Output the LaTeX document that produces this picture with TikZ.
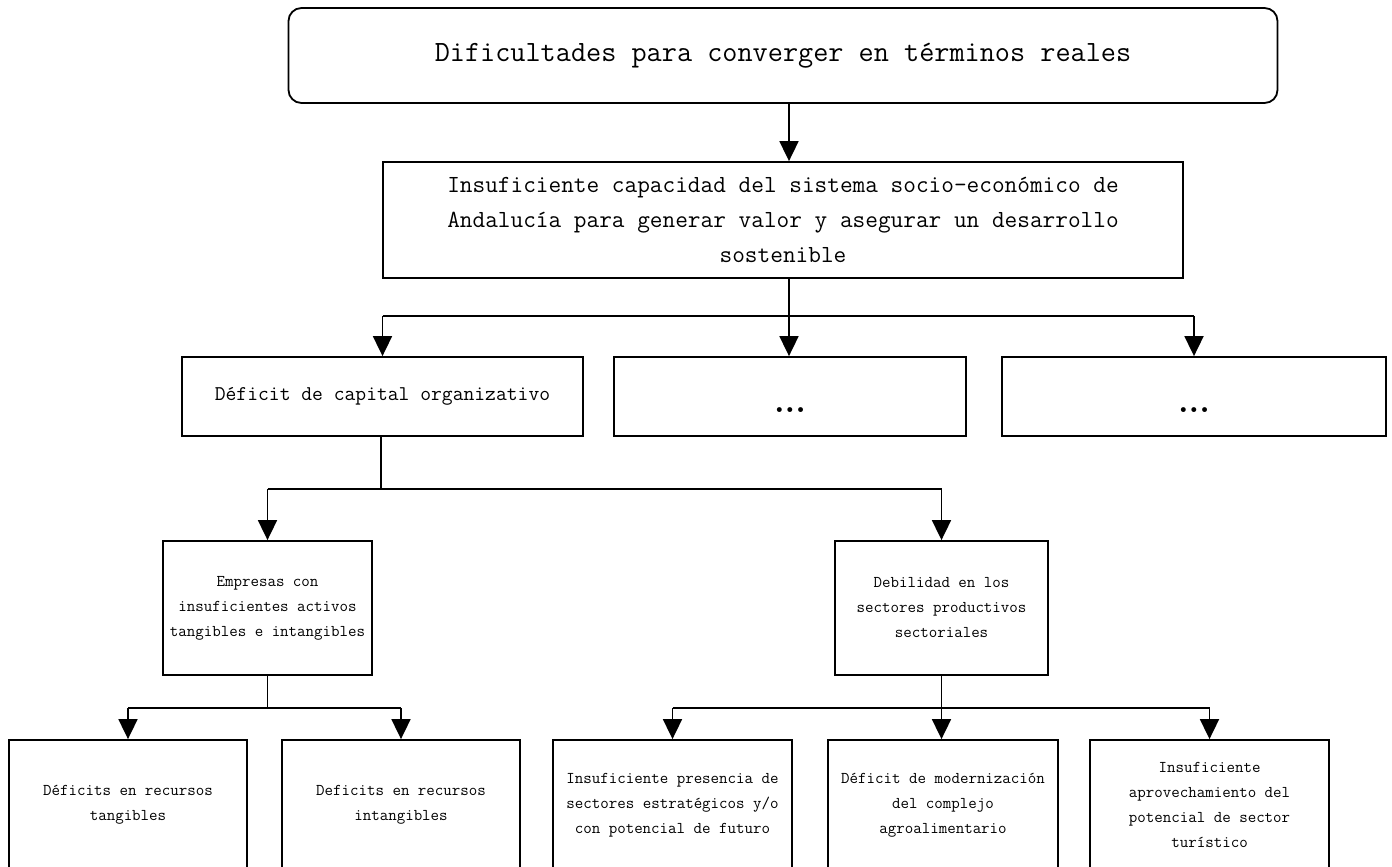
\documentclass[tikz,border=0pt]{standalone}
\usepackage{fontspec}
\usetikzlibrary{arrows.meta}
\tikzset{
  box/.style={draw, line width=1.8pt, inner sep=0pt, align=center, font=\ttfamily},
  topbox/.style={box, rounded corners=13pt},
  ln/.style={line width=1.8pt},
  arr/.style={line width=1.8pt, -{Triangle[width=19pt,length=20pt]}},
  fxl/.style={font=\ttfamily\fontsize{29.4}{35}\selectfont},
  fl/.style={font=\ttfamily\fontsize{24.6}{35}\selectfont},
  fm/.style={font=\ttfamily\fontsize{21}{28}\selectfont},
  fdots/.style={font=\rmfamily\bfseries\fontsize{34}{34}\selectfont},
  fs/.style={font=\ttfamily\fontsize{16.5}{25}\selectfont}
}
\begin{document}
\begin{tikzpicture}[x=1pt,y=-1pt]
\useasboundingbox (0,0) rectangle (1392,867);
\fill[white] (0,0) rectangle (1392,867);
\clip (0,0) rectangle (1392,867);

% level 1
\node[topbox, fxl, minimum width=989pt, minimum height=95pt] (top) at (783,55.5)
  {Dificultades para converger en términos reales};
% level 2
\node[box, fl, minimum width=800pt, minimum height=116pt] (sys) at (783,220)
  {Insuficiente capacidad del sistema socio-económico de\\Andalucía para generar valor y asegurar un desarrollo\\sostenible};
% level 3
\node[box, fm, minimum width=401pt, minimum height=79pt] (A) at (382.5,396.5)
  {Déficit de capital organizativo};
\node[box, fdots, minimum width=352pt, minimum height=79pt] (B) at (790,396.5)
  {\raisebox{-16pt}[0pt][0pt]{...}};
\node[box, fdots, minimum width=384pt, minimum height=79pt] (C) at (1194,396.5)
  {\raisebox{-16pt}[0pt][0pt]{...}};
% level 4
\node[box, fs, minimum width=209pt, minimum height=134pt] (D) at (267.5,608)
  {Empresas con\\insuficientes activos\\tangibles e intangibles};
\node[box, fs, minimum width=213pt, minimum height=134pt] (E) at (941.5,608)
  {Debilidad en los\\sectores productivos\\sectoriales};
% level 5
\node[box, fs, minimum width=238pt, minimum height=130pt] (b1) at (128,805)
  {Déficits en recursos\\tangibles};
\node[box, fs, minimum width=238pt, minimum height=130pt] (b2) at (401,805)
  {Deficits en recursos\\intangibles};
\node[box, fs, minimum width=239pt, minimum height=130pt] (b3) at (672.5,805)
  {Insuficiente presencia de\\sectores estratégicos y/o\\con potencial de futuro};
\node[box, fs, minimum width=230pt, minimum height=130pt] (b4) at (943,805)
  {Déficit de modernización\\del complejo\\agroalimentario};
\node[box, fs, minimum width=239pt, minimum height=130pt] (b5) at (1209.5,805)
  {Insuficiente\\aprovechamiento del\\potencial de sector\\turístico};

% connectors
\coordinate (t1) at (789,316);
\coordinate (t2) at (381,489);
\coordinate (t3) at (267.5,708);
\coordinate (t4) at (941.5,708);

\draw[arr] (top.south -| t1) -- (sys.north -| t1);

\draw[ln] (sys.south -| t1) -- (t1);
\draw[ln] (A.north |- t1) -- (C.north |- t1);
\draw[arr] (A.north |- t1) -- (A.north);
\draw[arr] (t1) -- (t1 |- B.north);
\draw[arr] (C.north |- t1) -- (C.north);

\draw[ln] (A.south -| t2) -- (t2);
\draw[ln] (D.north |- t2) -- (E.north |- t2);
\draw[arr] (D.north |- t2) -- (D.north);
\draw[arr] (E.north |- t2) -- (E.north);

\draw[ln] (D.south) -- (t3);
\draw[ln] (b1.north |- t3) -- (b2.north |- t3);
\draw[arr] (b1.north |- t3) -- (b1.north);
\draw[arr] (b2.north |- t3) -- (b2.north);

\draw[ln] (E.south) -- (t4);
\draw[ln] (b3.north |- t4) -- (b5.north |- t4);
\draw[arr] (b3.north |- t4) -- (b3.north);
\draw[arr] (t4) -- (t4 |- b4.north);
\draw[arr] (b5.north |- t4) -- (b5.north);
\end{tikzpicture}
\end{document}
